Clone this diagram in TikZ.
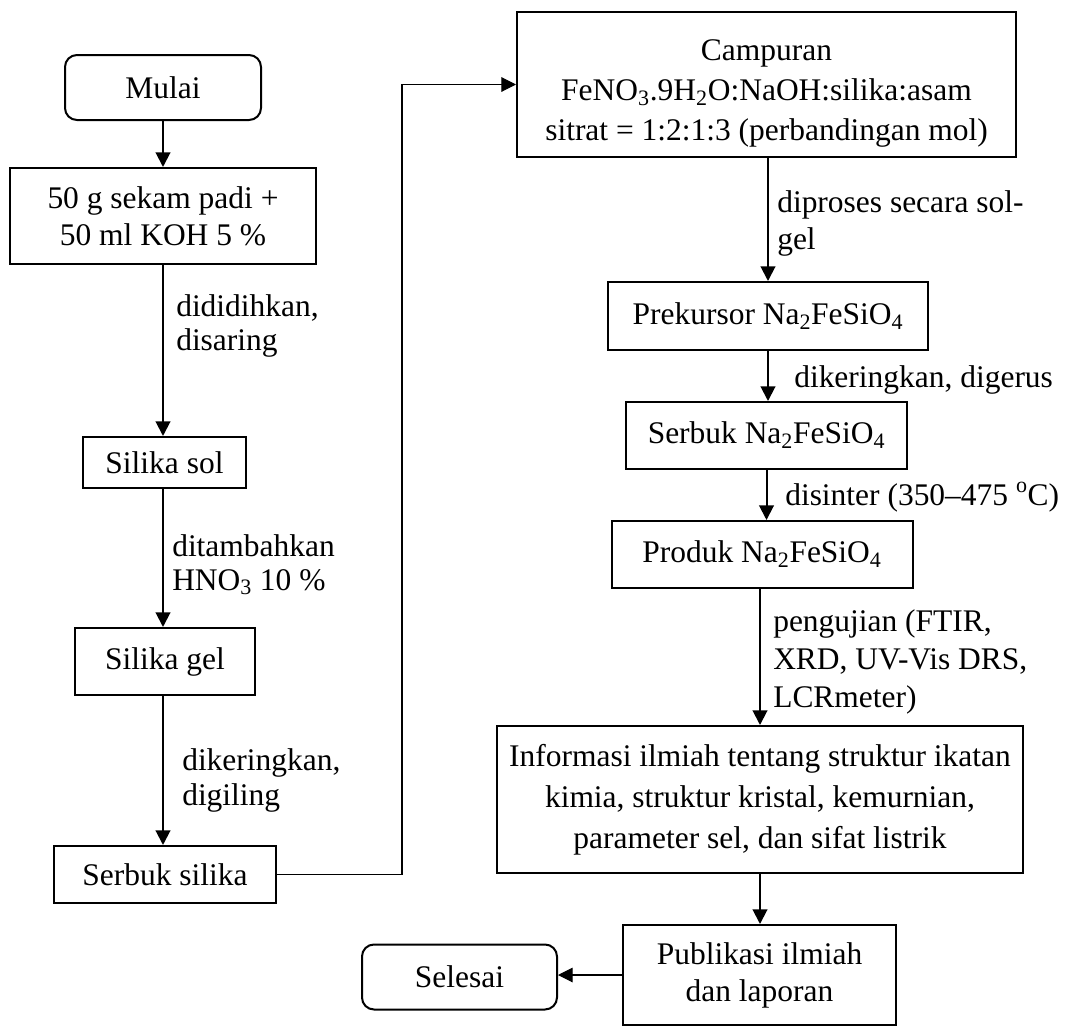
\documentclass[tikz,border=0pt]{standalone}
\usepackage{fontspec}
\setmainfont{Liberation Serif}
\usetikzlibrary{arrows.meta}
\begin{document}
\begin{tikzpicture}[x=0.75pt,y=-0.75pt,
  every node/.style={font=\fontsize{23.6}{27.75}\selectfont, inner sep=0pt},
  box/.style={draw, line width=1.5pt, align=center},
  rbox/.style={box, rounded corners=9pt},
  lbl/.style={anchor=base west, align=left},
  arr/.style={line width=1.5pt, -{Triangle[length=11pt,width=11pt]}},
  tarr/.style={line width=0.8pt, -{Triangle[length=11pt,width=11pt]}}]
\useasboundingbox (0,0) rectangle (1068,1028);
% left column
\node[rbox, minimum width=147pt, minimum height=48.75pt] (mulai) at (163,87.5) {Mulai};
\node[box, minimum width=229.5pt, minimum height=72pt] (b1) at (163,216) {50 g sekam padi +\\50 ml KOH 5 \%};
\node[box, minimum width=122.25pt, minimum height=38.25pt] (sol) at (164.5,462.5) {Silika sol};
\node[box, minimum width=135pt, minimum height=50.25pt] (gel) at (165,661.5) {Silika gel};
\node[box, minimum width=166.5pt, minimum height=42.75pt] (serbuk) at (165,874.5) {Serbuk silika};
% right column
\node[box, minimum width=374.25pt, minimum height=108.75pt, font=\fontsize{23.6}{30}\selectfont] (camp) at (766.5,84.5) {\rule{0pt}{29pt}Campuran\\FeNO\textsubscript{3}.9H\textsubscript{2}O:NaOH:silika:asam\\sitrat = 1:2:1:3 (perbandingan mol)};
\node[box, minimum width=240pt, minimum height=51pt] (prek) at (768,316) {Prekursor Na\textsubscript{2}FeSiO\textsubscript{4}};
\node[box, minimum width=210.75pt, minimum height=50.25pt] (serna) at (766.5,435.5) {Serbuk Na\textsubscript{2}FeSiO\textsubscript{4}};
\node[box, minimum width=225.75pt, minimum height=50.25pt] (prod) at (762,554.5) {Produk Na\textsubscript{2}FeSiO\textsubscript{4}};
\node[box, minimum width=394.5pt, minimum height=110.25pt, font=\fontsize{23.6}{30.75}\selectfont] (info) at (760,799.5) {Informasi ilmiah tentang struktur ikatan\\kimia, struktur kristal, kemurnian,\\parameter sel, dan sifat listrik};
\node[box, minimum width=204.75pt, minimum height=75pt] (pub) at (759.5,975) {Publikasi ilmiah\\dan laporan};
\node[rbox, minimum width=146.25pt, minimum height=48.75pt] (sel) at (459.5,977) {Selesai};
% labels (base = last line)
\node[lbl, font=\fontsize{23.6}{25.5}\selectfont] (l1) at (176,350) {dididihkan,\\disaring};
\node[lbl, font=\fontsize{23.6}{25.5}\selectfont] (l2) at (172,590) {ditambahkan\\HNO\textsubscript{3} 10 \%};
\node[lbl, font=\fontsize{23.6}{26.25}\selectfont] (l3) at (182,805) {dikeringkan,\\digiling};
\node[lbl] (l4) at (777,249) {diproses secara sol-\\gel};
\node[lbl] (l5) at (794,387) {dikeringkan, digerus};
\node[lbl] (l6) at (785,505) {disinter (350–475 \textsuperscript{o}C)};
\node[lbl, font=\fontsize{23.6}{28.5}\selectfont] (l7) at (773,707) {pengujian (FTIR,\\XRD, UV-Vis DRS,\\LCRmeter)};
% connectors
\draw[arr] (mulai) -- (b1);
\draw[arr] (b1.south -| mulai.south) -- (sol.north -| mulai.south);
\draw[arr] (sol.south -| mulai.south) -- (gel.north -| mulai.south);
\draw[arr] (gel.south -| mulai.south) -- (serbuk.north -| mulai.south);
\coordinate (bend) at (402,0);
\draw[tarr] (serbuk.east) -- (serbuk.east -| bend) -- (camp.west -| bend) -- (camp.west);
\draw[arr] (camp.south -| prek.north) -- (prek.north);
\draw[arr] (prek.south) -- (serna.north -| prek.south);
\draw[arr] (serna.south) -- (prod.north -| serna.south);
\draw[arr] (prod.south -| info.north) -- (info.north);
\draw[arr] (info.south) -- (pub.north -| info.south);
\draw[tarr] (pub.west) -- (sel.east |- pub.west);
\end{tikzpicture}
\end{document}
